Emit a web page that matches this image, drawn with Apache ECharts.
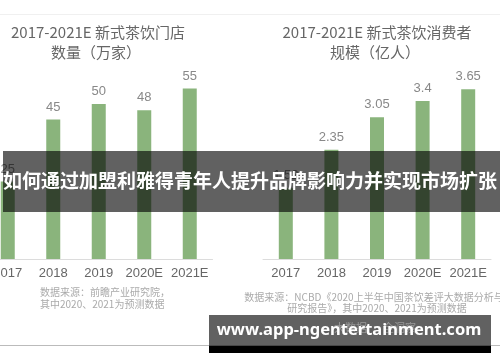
<!DOCTYPE html>
<html>
<head>
<meta charset="utf-8">
<script src="https://cdn.jsdelivr.net/npm/echarts@6/dist/echarts.min.js"></script>
<style>
html,body{margin:0;padding:0;background:#fff;}
#c{width:500px;height:362px;}
</style>
</head>
<body>
<div id="c"></div>
<script>
const categories = ['2017', '2018', '2019', '2020E', '2021E'];
const storeCounts = [25, 45, 50, 48, 55];
const consumerScale = [1.52, 2.35, 3.05, 3.4, 3.65];
const leftTitle = ['2017-2021E 新式茶饮门店', '数量（万家）'];
const rightTitle = ['2017-2021E 新式茶饮消费者', '规模（亿人）'];
const leftSource = ['数据来源：前瞻产业研究院，', '其中2020、2021为预测数据'];
const rightSource = ['数据来源：NCBD《2020上半年中国茶饮差评大数据分析与', '研究报告》，其中2020、2021为预测数据'];
const headline = '如何通过加盟利雅得青年人提升品牌影响力并实现市场扩张';
const urlText = 'www.app-ngentertainment.com';

const CJK = '"Noto Sans CJK SC", "Noto Sans", sans-serif';
const LAT = '"Liberation Sans", "Noto Sans CJK SC", sans-serif';
const green = '#8ab47c';

const chart = echarts.init(document.getElementById('c'), null, {renderer: 'canvas'});

function xAxis(idx) {
  return {
    type: 'category', gridIndex: idx, data: categories,
    axisLine: {lineStyle: {color: '#dcdcdc'}},
    axisTick: {show: false},
    axisLabel: {color: '#666', fontSize: 13, fontFamily: LAT, margin: 8, interval: 0}
  };
}
function yAxis(idx, max) {
  return {type: 'value', gridIndex: idx, min: 0, max: max, show: false, splitLine: {show: false}};
}
function barSeries(idx, data) {
  return {
    type: 'bar', xAxisIndex: idx, yAxisIndex: idx, data: data, barWidth: 14,
    itemStyle: {color: green},
    label: {show: true, position: 'top', distance: 6, color: '#888', fontSize: 13, fontFamily: LAT}
  };
}
function txt(x, y, s, size, color, weight, font, align) {
  return {type: 'text', x: x, y: y, z: 100,
    style: {text: s, fontSize: size, fill: color, fontWeight: weight || 'normal',
      fontFamily: font || CJK, textAlign: align || 'center', textVerticalAlign: 'middle'}};
}

const option = {
  backgroundColor: '#fff',
  animation: false,
  grid: [
    {left: -15, width: 227.5, top: 73, bottom: 103, containLabel: false, outerBoundsMode: 'none'},
    {left: 263, width: 228, top: 73, bottom: 103, containLabel: false, outerBoundsMode: 'none'}
  ],
  xAxis: [xAxis(0), xAxis(1)],
  yAxis: [yAxis(0, 60), yAxis(1, 4)],
  series: [barSeries(0, storeCounts), barSeries(1, consumerScale)],
  graphic: [
    {type: 'line', z: 1, shape: {x1: 0, y1: 14.5, x2: 500, y2: 14.5}, style: {stroke: '#f0f0f0', lineWidth: 1}},
    txt(98, 32, leftTitle[0], 15, '#666'),
    txt(96, 52, leftTitle[1], 15, '#666'),
    txt(377, 32, rightTitle[0], 15, '#666'),
    txt(375, 52, rightTitle[1], 15, '#666'),
    txt(40, 292, leftSource[0], 10, '#aaa', 'normal', CJK, 'left'),
    txt(40, 304, leftSource[1], 10, '#aaa', 'normal', CJK, 'left'),
    txt(374, 297, rightSource[0], 10, '#aaa'),
    txt(377, 308, rightSource[1], 10, '#aaa'),
    txt(375, 328, '大数据 · 全洞察', 11, '#999'),
    {type: 'line', z: 1, shape: {x1: 0, y1: 345.5, x2: 500, y2: 345.5}, style: {stroke: '#bbb', lineWidth: 1}},
    {type: 'rect', z: 90, shape: {x: 3, y: 151, width: 497, height: 61}, style: {fill: 'rgba(0,0,0,0.62)'}},
    txt(250, 181, headline, 19, '#fff', 'bold'),
    {type: 'rect', z: 90, shape: {x: 209, y: 315, width: 282, height: 31}, style: {fill: 'rgba(0,0,0,0.62)'}},
    {type: 'rect', z: 90, shape: {x: 209, y: 346, width: 282, height: 7}, style: {fill: '#000'}},
    txt(349, 330, urlText, 16.5, '#fff', 'bold', '"Noto Sans", "Open Sans", sans-serif')
  ]
};
chart.setOption(option);
</script>
</body>
</html>
